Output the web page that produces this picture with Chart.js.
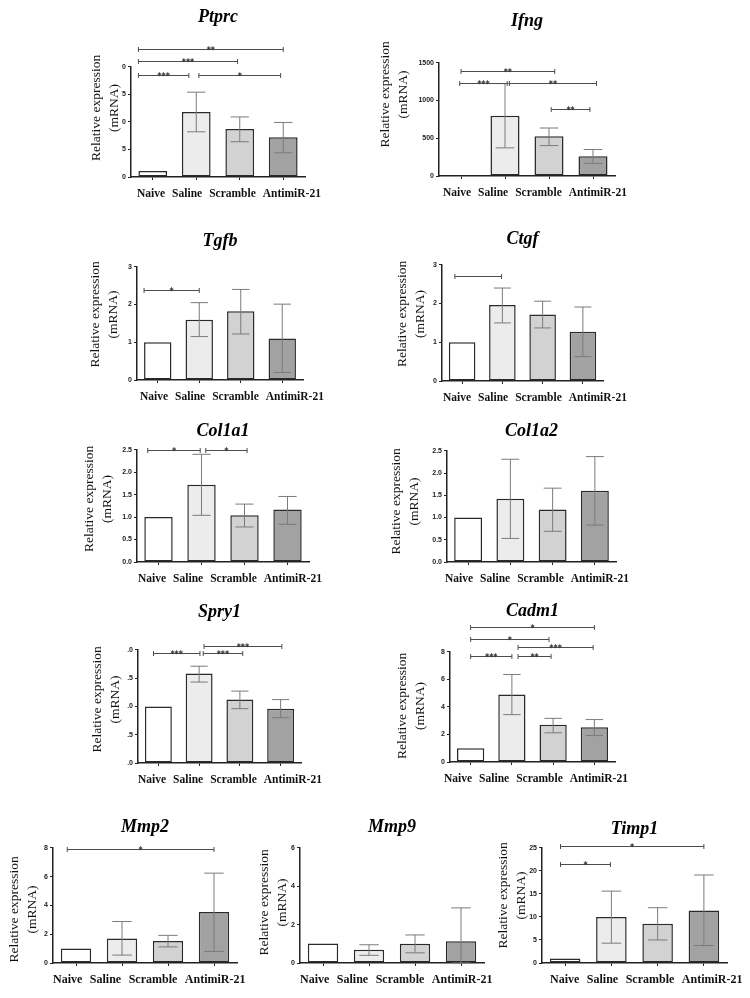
<!DOCTYPE html>
<html>
<head>
<meta charset="utf-8">
<script src="https://cdn.jsdelivr.net/npm/chart.js@4.4.1/dist/chart.umd.min.js"></script>
<style>
    html, body { margin: 0; padding: 0; background: #fff; overflow: hidden; }
    #page { position: relative; width: 750px; height: 998px; }
    .panel { position: absolute; }
</style>
</head>
<body>
<div id="page"></div>
<script>
        // Groups on every x axis
        const groups = ['Naive', 'Saline', 'Scramble', 'AntimiR-21'];

        // Values: mean, upper and lower error bar ends
        const ptprcMean = [1.1, 11.8, 8.7, 7.2];
        const ptprcHigh = [1.1, 15.4, 10.9, 9.9];
        const ptprcLow = [1.1, 8.2, 6.4, 4.4];
        const ptprcTicks = ['0', '5', '0', '5', '0'];
        const ptprcSig = [[-0.33, 3.0, 23.2, '**'], [-0.33, 1.95, 21.0, '***'], [-0.33, 0.83, 18.6, '***'], [1.06, 2.94, 18.6, '*']];

        const ifngMean = [1, 798, 526, 263];
        const ifngHigh = [1, 1225, 636, 351];
        const ifngLow = [1, 373, 403, 167];
        const ifngTicks = ['0', '500', '1000', '1500'];
        const ifngSig = [[0, 2.13, 1390, '**'], [-0.03, 1.05, 1228, '***'], [1.1, 3.08, 1228, '**'], [2.05, 2.93, 890, '**']];

        const tgfbMean = [1.0, 1.6, 1.82, 1.1];
        const tgfbHigh = [1.0, 2.05, 2.4, 2.01];
        const tgfbLow = [1.0, 1.15, 1.22, 0.2];
        const tgfbTicks = ['0', '1', '2', '3'];
        const tgfbSig = [[-0.33, 1.0, 2.39, '*']];

        const ctgfMean = [1.0, 1.96, 1.72, 1.27];
        const ctgfHigh = [1.0, 2.4, 2.06, 1.91];
        const ctgfLow = [1.0, 1.5, 1.37, 0.63];
        const ctgfTicks = ['0', '1', '2', '3'];
        const ctgfSig = [[-0.18, 0.98, 2.72, '']];

        const col1a1Mean = [1.0, 1.72, 1.04, 1.17];
        const col1a1High = [1.0, 2.40, 1.29, 1.46];
        const col1a1Low = [1.0, 1.04, 0.78, 0.84];
        const col1a1Ticks = ['0.0', '0.5', '1.0', '1.5', '2.0', '2.5'];
        const col1a1Sig = [[-0.25, 0.97, 2.49, '*'], [1.1, 2.06, 2.49, '*']];

        const col1a2Mean = [1.0, 1.42, 1.18, 1.6];
        const col1a2High = [1.0, 2.31, 1.66, 2.37];
        const col1a2Low = [1.0, 0.53, 0.69, 0.83];
        const col1a2Ticks = ['0.0', '0.5', '1.0', '1.5', '2.0', '2.5'];
        const col1a2Sig = [];

        const spry1Mean = [1.0, 1.58, 1.12, 0.96];
        const spry1High = [1.0, 1.71, 1.27, 1.12];
        const spry1Low = [1.0, 1.43, 0.96, 0.80];
        const spry1Ticks = ['.0', '.5', '.0', '.5', '.0'];
        const spry1Sig = [[-0.12, 1.02, 1.94, '***'], [1.1, 2.07, 1.94, '***'], [1.12, 3.03, 2.07, '***']];

        const cadm1Mean = [1.0, 4.9, 2.7, 2.52];
        const cadm1High = [1.0, 6.35, 3.17, 3.08];
        const cadm1Low = [1.0, 3.44, 2.12, 1.92];
        const cadm1Ticks = ['0', '2', '4', '6', '8'];
        const cadm1Sig = [[0, 3.0, 9.78, '*'], [0, 1.9, 8.94, '*'], [1.15, 2.97, 8.34, '***'], [0, 1.0, 7.69, '***'], [1.15, 1.95, 7.69, '**']];

        const mmp2Mean = [1.0, 1.71, 1.53, 3.54];
        const mmp2High = [1.0, 2.88, 1.92, 6.24];
        const mmp2Low = [1.0, 0.55, 1.12, 0.8];
        const mmp2Ticks = ['0', '2', '4', '6', '8'];
        const mmp2Sig = [[-0.19, 3.0, 7.95, '*']];

        const mmp9Mean = [1.01, 0.69, 1.0, 1.13];
        const mmp9High = [1.01, 0.95, 1.46, 2.87];
        const mmp9Low = [1.01, 0.4, 0.53, 0];
        const mmp9Ticks = ['0', '2', '4', '6'];
        const mmp9Sig = [];

        const timp1Mean = [1.0, 9.96, 8.5, 11.4];
        const timp1High = [1.0, 15.6, 12.0, 19.1];
        const timp1Low = [1.0, 4.3, 5.0, 3.8];
        const timp1Ticks = ['0', '5', '10', '15', '20', '25'];
        const timp1Sig = [[-0.1, 3.0, 25.4, '*'], [-0.1, 0.98, 21.4, '*']];

        const barFills = ['#ffffff', '#ececec', '#d2d2d2', '#a2a2a2'];

        // Panel placement on the page (plot area edges in px)
        const panels = [
            { title: 'Ptprc', mean: ptprcMean, hi: ptprcHigh, lo: ptprcLow, ticks: ptprcTicks, sig: ptprcSig, max: 20, step: 5,
              l: 131, r: 305, t: 67, b: 178, D: 49, d2: 17, ys: -14, ls: 6, fs: 11.5 },
            { title: 'Ifng', mean: ifngMean, hi: ifngHigh, lo: ifngLow, ticks: ifngTicks, sig: ifngSig, max: 1500, step: 500,
              l: 439, r: 615, t: 63, b: 177, D: 41, d2: 36, ys: -25, ls: 4, fs: 11.5 },
            { title: 'Tgfb', mean: tgfbMean, hi: tgfbHigh, lo: tgfbLow, ticks: tgfbTicks, sig: tgfbSig, max: 3, step: 1,
              l: 137, r: 303, t: 267, b: 381, D: 25, d2: 24, ys: -9, ls: 3, fs: 11.5 },
            { title: 'Ctgf', mean: ctgfMean, hi: ctgfHigh, lo: ctgfLow, ticks: ctgfTicks, sig: ctgfSig, max: 3, step: 1,
              l: 442, r: 603, t: 265, b: 382, D: 25, d2: 22, ys: -9, ls: 1, fs: 11.5 },
            { title: 'Col1a1', mean: col1a1Mean, hi: col1a1High, lo: col1a1Low, ticks: col1a1Ticks, sig: col1a1Sig, max: 2.5, step: 0.5,
              l: 137, r: 309, t: 450, b: 563, D: 18, d2: 30, ys: -7, ls: 1, fs: 11.5 },
            { title: 'Col1a2', mean: col1a2Mean, hi: col1a2High, lo: col1a2Low, ticks: col1a2Ticks, sig: col1a2Sig, max: 2.5, step: 0.5,
              l: 447, r: 616, t: 451, b: 563, D: 19, d2: 33, ys: -5, ls: -2, fs: 11.5 },
            { title: 'Spry1', mean: spry1Mean, hi: spry1High, lo: spry1Low, ticks: spry1Ticks, sig: spry1Sig, max: 2, step: 0.5,
              l: 138, r: 301, t: 650, b: 764, D: 37, d2: 23, ys: -7, ls: 0, fs: 11.5 },
            { title: 'Cadm1', mean: cadm1Mean, hi: cadm1High, lo: cadm1Low, ticks: cadm1Ticks, sig: cadm1Sig, max: 8, step: 2,
              l: 450, r: 615, t: 652, b: 763, D: 40, d2: 30, ys: -1, ls: -6, fs: 11.5 },
            { title: 'Mmp2', mean: mmp2Mean, hi: mmp2High, lo: mmp2Low, ticks: mmp2Ticks, sig: mmp2Sig, max: 8, step: 2,
              l: 53, r: 237, t: 848, b: 964, D: 20, d2: 21, ys: 4, ls: 0, fs: 12 },
            { title: 'Mmp9', mean: mmp9Mean, hi: mmp9High, lo: mmp9Low, ticks: mmp9Ticks, sig: mmp9Sig, max: 6, step: 2,
              l: 300, r: 484, t: 848, b: 964, D: 20, d2: 18, ys: -3, ls: 0, fs: 12 },
            { title: 'Timp1', mean: timp1Mean, hi: timp1High, lo: timp1Low, ticks: timp1Ticks, sig: timp1Sig, max: 25, step: 5,
              l: 542, r: 727, t: 848, b: 964, D: 18, d2: 21, ys: -10, ls: 8, fs: 12 }
        ];

        const YW = 64;      // space left of the y axis (mirrored on the right)
        const AW = 24;      // width of the y axis box (tick labels)
        const XH = 28;      // x axis box height

        // Error bars, significance brackets, axis title and group labels
        const extras = {
            id: 'extras',
            afterDraw(chart, args, o) {
                const ctx = chart.ctx;
                const xs = chart.scales.x, ys = chart.scales.y, area = chart.chartArea;
                const bars = chart.getDatasetMeta(0).data;
                ctx.save();

                ctx.strokeStyle = '#7b7b7b';
                ctx.lineWidth = 1;
                bars.forEach((bar, i) => {
                    if (o.hi[i] === o.lo[i]) return;
                    const top = ys.getPixelForValue(o.hi[i]);
                    const bot = ys.getPixelForValue(o.lo[i]);
                    const cap = bar.width * 0.32;
                    ctx.beginPath();
                    ctx.moveTo(bar.x, top); ctx.lineTo(bar.x, bot);
                    ctx.moveTo(bar.x - cap, top); ctx.lineTo(bar.x + cap, top);
                    ctx.moveTo(bar.x - cap, bot); ctx.lineTo(bar.x + cap, bot);
                    ctx.stroke();
                });

                ctx.strokeStyle = '#4d4d4d';
                ctx.fillStyle = '#333';
                ctx.font = 'bold 8px "DejaVu Sans"';
                ctx.textAlign = 'center';
                ctx.textBaseline = 'alphabetic';
                o.sig.forEach(s => {
                    const x1 = xs.getPixelForValue(s[0]);
                    const x2 = xs.getPixelForValue(s[1]);
                    const y = Math.round(ys.getPixelForValue(s[2])) + 0.5;
                    ctx.beginPath();
                    ctx.moveTo(x1, y); ctx.lineTo(x2, y);
                    ctx.moveTo(x1, y - 2.5); ctx.lineTo(x1, y + 2.5);
                    ctx.moveTo(x2, y - 2.5); ctx.lineTo(x2, y + 2.5);
                    ctx.stroke();
                    if (s[3]) ctx.fillText(s[3], (x1 + x2) / 2, y + 3);
                });

                // y axis title, two lines
                ctx.fillStyle = '#111';
                ctx.font = '13.5px "Liberation Serif"';
                ctx.textBaseline = 'middle';
                const cy = (area.top + area.bottom) / 2 + o.ys;
                const cx = area.left - o.d2;
                ctx.save();
                ctx.translate(cx, cy);
                ctx.rotate(-Math.PI / 2);
                ctx.fillText('Relative expression', 0, -18);
                ctx.fillText('(mRNA)', 0, 0);
                ctx.restore();

                // group labels laid out as one line
                ctx.font = 'bold ' + o.fs + 'px "Liberation Serif"';
                ctx.fillStyle = '#111';
                ctx.textAlign = 'left';
                let x = area.left + o.ls;
                const gap = o.fs === 12 ? 7.5 : 7;
                groups.forEach(g => {
                    ctx.fillText(g, x, area.bottom + 17);
                    x += ctx.measureText(g).width + gap;
                });
                ctx.restore();
            }
        };

        function makePanel(p) {
            const page = document.getElementById('page');
            const topSpace = p.D + 12.8;
            const w = (p.r - p.l) + 2 * YW;
            const h = topSpace + (p.b - p.t) + XH + 2;
            const div = document.createElement('div');
            div.className = 'panel';
            div.style.left = (p.l - YW) + 'px';
            div.style.top = (p.t - topSpace) + 'px';
            div.style.width = w + 'px';
            div.style.height = h + 'px';
            const canvas = document.createElement('canvas');
            canvas.width = w;
            canvas.height = h;
            div.appendChild(canvas);
            page.appendChild(div);

            new Chart(canvas.getContext('2d'), {
                type: 'bar',
                data: {
                    labels: groups,
                    datasets: [{
                        data: p.mean,
                        backgroundColor: barFills,
                        borderColor: '#2a2a2a',
                        borderWidth: 1.5,
                        borderSkipped: false,
                        barPercentage: 0.66,
                        categoryPercentage: 1
                    }]
                },
                options: {
                    responsive: false,
                    animation: false,
                    // equal boxes on both sides keep the title centred over the plot
                    layout: { padding: { left: YW - AW, right: YW - AW, top: 0, bottom: 2 } },
                    plugins: {
                        legend: { display: false },
                        tooltip: { enabled: false },
                        title: {
                            display: true,
                            text: p.title,
                            color: '#000',
                            font: { family: 'Liberation Serif', size: 18, weight: 'bold', style: 'italic', lineHeight: 1.2 },
                            padding: { top: 2, bottom: p.D - 10.8 }
                        },
                        extras: { hi: p.hi, lo: p.lo, sig: p.sig, d2: p.d2, ys: p.ys, ls: p.ls, fs: p.fs }
                    },
                    scales: {
                        x: {
                            offset: true,
                            grid: { display: true, drawOnChartArea: false, offset: false, tickLength: 3, color: '#222' },
                            border: { color: '#222', width: 1.5 },
                            ticks: { display: false },
                            afterFit(s) { s.height = XH; }
                        },
                        y: {
                            min: 0,
                            max: p.max,
                            ticks: {
                                stepSize: p.step,
                                padding: 2,
                                color: '#222',
                                font: { family: 'Liberation Sans', size: 7, weight: 'bold' },
                                callback: (v, i) => p.ticks[i]
                            },
                            grid: { drawOnChartArea: false, tickLength: 3, color: '#222' },
                            border: { color: '#222', width: 1.5 },
                            afterFit(s) { s.width = AW; }
                        },
                        // empty box on the right, mirrors the y axis width
                        spacer: {
                            type: 'linear',
                            position: 'right',
                            display: true,
                            grid: { display: false },
                            border: { display: false },
                            ticks: { display: false },
                            afterFit(s) { s.width = AW; }
                        }
                    }
                },
                plugins: [extras]
            });
        }

        panels.forEach(makePanel);
</script>
</body>
</html>
